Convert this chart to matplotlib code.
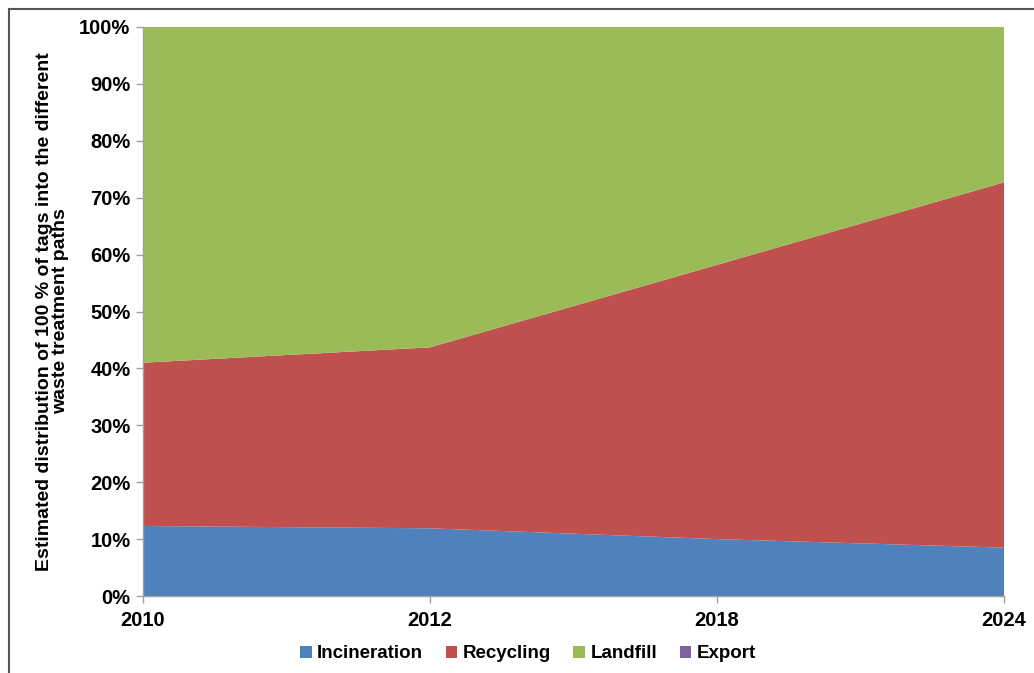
import matplotlib.pyplot as plt
from matplotlib.lines import Line2D
from matplotlib.patches import Patch

years = ['2010', '2012', '2018', '2024']
incineration = [12.3, 11.9, 10.0, 8.5]
recycling = [28.7, 31.8, 48.2, 64.2]
landfill = [59.0, 56.3, 41.8, 27.3]
export = [0, 0, 0, 0]

names = ['Incineration', 'Recycling', 'Landfill', 'Export']
colors = ['#4F81BD', '#C0504D', '#9BBB59', '#8064A2']

plt.rcParams['font.family'] = ['Liberation Sans', 'DejaVu Sans']
plt.rcParams['font.weight'] = 'bold'

fig = plt.figure(figsize=(10.34, 6.73), dpi=100)
ax = fig.add_axes([143 / 1034, 77 / 673, 861 / 1034, 569 / 673])

x = list(range(len(years)))
ax.stackplot(x, incineration, recycling, landfill, export, colors=colors, linewidth=0)

ax.set_xlim(0, len(years) - 1)
ax.set_ylim(0, 100)
ax.set_xticks(x)
ax.set_xticklabels(years)
ax.set_yticks(range(0, 101, 10))
ax.set_yticklabels([f'{v}%' for v in range(0, 101, 10)])
ax.tick_params(axis='both', labelsize=14.5, length=5, color='#A0A0A0', width=1)
ax.tick_params(axis='x', pad=6)
ax.tick_params(axis='y', pad=4)
for s in ['top', 'right']:
    ax.spines[s].set_visible(False)
for s in ['left', 'bottom']:
    ax.spines[s].set_color('#A0A0A0')
    ax.spines[s].set_linewidth(1)

ax.set_ylabel('Estimated distribution of 100 % of tags into the different\nwaste treatment paths',
              fontsize=14, fontweight='bold', labelpad=7, linespacing=0.95)

handles = [Patch(facecolor=c, edgecolor='none') for c in colors]
fig.legend(handles, names, loc='center', bbox_to_anchor=(528 / 1034, 1 - 654 / 673),
           ncol=4, frameon=False, fontsize=13.5, handlelength=0.6, handleheight=0.6,
           handletextpad=0.3, columnspacing=1.2)

# outer chart frame
fig.add_artist(Line2D([9 / 1034, 1], [1 - 9 / 673, 1 - 9 / 673], color='#555555', linewidth=1.5))
fig.add_artist(Line2D([9 / 1034, 9 / 1034], [0, 1 - 9 / 673], color='#555555', linewidth=1.5))

fig.savefig('out.png', dpi=100)
